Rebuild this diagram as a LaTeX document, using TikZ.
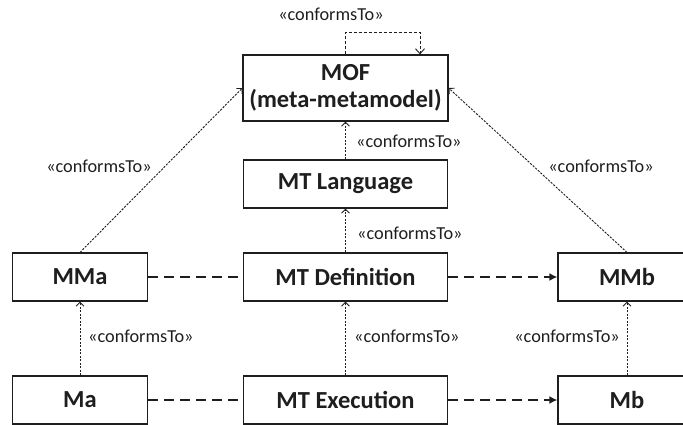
\documentclass[tikz,border=0pt]{standalone}
\usepackage{fontspec}
\setmainfont{Carlito}
\usetikzlibrary{arrows.meta}
\definecolor{ink}{RGB}{30,30,30}
\tikzset{
  box/.style={draw=ink, line width=1.2pt, fill=white, minimum height=48pt, font=\fontsize{24.5}{27}\selectfont\bfseries, text=ink, inner sep=0pt, align=center},
  conf/.style={draw=ink, line width=0.9pt, dash pattern=on 2.2pt off 1.3pt, -{Straight Barb[length=4pt,width=8pt,line width=0.9pt]}},
  flow/.style={draw=ink, line width=2.2pt, dash pattern=on 10pt off 6pt},
  flowarrow/.style={flow, -{Latex[length=8pt,width=8pt]}},
  lbl/.style={font=\fontsize{18.3}{20}\selectfont, text=ink, inner sep=0pt}
}
\begin{document}
\begin{tikzpicture}[x=1pt,y=-1pt]
\useasboundingbox (0,0) rectangle (683,425);
\node[box, minimum width=205pt, minimum height=66pt] (MOF) at (345.5,88) {MOF\\(meta-metamodel)};
\node[box, minimum width=204pt] (MTL) at (345.5,184) {MT Language};
\node[box, minimum width=204pt] (MTD) at (345.5,277) {MT Definition};
\node[box, minimum width=135pt] (MMa) at (80,277) {MMa};
\node[box, minimum width=138pt] (MMb) at (627,277) {MMb};
\node[box, minimum width=135pt] (Ma) at (80,400) {Ma};
\node[box, minimum width=204pt] (MTE) at (345.5,400) {MT Execution};
\node[box, minimum width=138pt] (Mb) at (627,400) {Mb};

% self loop
\draw[draw=ink, line width=0.9pt, dash pattern=on 3pt off 2pt, -{Straight Barb[length=5pt,width=9pt,line width=0.9pt]}]
  (MOF.north) -- ++(0,-22) -| ([xshift=74.5pt]MOF.north);
\node[lbl] (l0) at (331,14) {«conformsTo»};

% conforms arrows
\draw[conf] (MMa.north) -- (MOF.west);
\draw[conf] (MMb.north) -- (MOF.east);
\draw[conf] (MTL) -- (MOF);
\draw[conf] (MTD) -- (MTL);
\draw[conf] (Ma) -- (MMa);
\draw[conf] (MTE) -- (MTD);
\draw[conf] (Mb) -- (MMb);

\node[lbl] (l1) at (99,166) {«conformsTo»};
\node[lbl] (l2) at (601,166) {«conformsTo»};
\node[lbl, anchor=west] (l3) at (356,141) {«conformsTo»};
\node[lbl, anchor=west] (l4) at (357,233) {«conformsTo»};
\node[lbl, anchor=west] (l5) at (88,336) {«conformsTo»};
\node[lbl, anchor=west] (l6) at (354,336) {«conformsTo»};
\node[lbl, anchor=east] (l7) at (620,336) {«conformsTo»};

% flows
\draw[flow] (MMa) -- (MTD);
\draw[flowarrow] (MTD) -- (MMb);
\draw[flow] (Ma) -- (MTE);
\draw[flowarrow] (MTE) -- (Mb);
\end{tikzpicture}
\end{document}
